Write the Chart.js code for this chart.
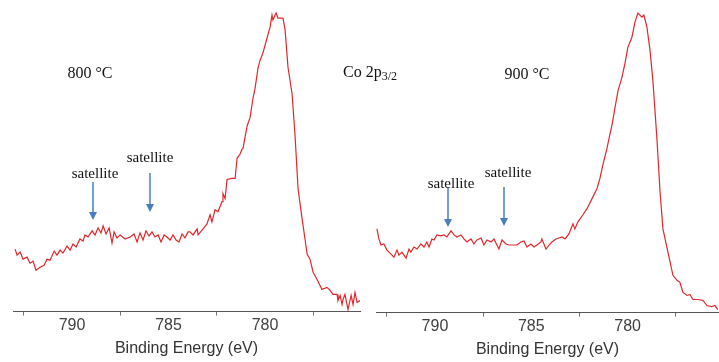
<!DOCTYPE html>
<html><head><meta charset="utf-8">
<script src="https://cdn.jsdelivr.net/npm/chart.js@4/dist/chart.umd.min.js"></script>
<style>
html,body{margin:0;padding:0;background:#fff;width:719px;height:362px;overflow:hidden;}
#wrap{position:relative;width:719px;height:362px;}
.cv{position:absolute;top:0;height:362px;}
.t{position:absolute;font-family:"Liberation Serif","Times New Roman",serif;color:#111;white-space:nowrap;transform:translate(-50%,-50%);line-height:1;}
svg{position:absolute;left:0;top:0;}
</style></head><body>
<div id="wrap">
<div class="cv" style="left:0;width:362px"><canvas id="c1"></canvas></div>
<div class="cv" style="left:362px;width:357px"><canvas id="c2"></canvas></div>
<svg width="719" height="362" viewBox="0 0 719 362">
  <line x1="93" y1="182" x2="93" y2="213" stroke="#4a7ebb" stroke-width="1.5"/><path d="M89,212 L97,212 L93,220 z" fill="#4a7ebb"/>
  <line x1="150" y1="173" x2="150" y2="205" stroke="#4a7ebb" stroke-width="1.5"/><path d="M146,204 L154,204 L150,212 z" fill="#4a7ebb"/>
  <line x1="448" y1="188" x2="448" y2="220" stroke="#4a7ebb" stroke-width="1.5"/><path d="M444,219 L452,219 L448,227 z" fill="#4a7ebb"/>
  <line x1="504" y1="187" x2="504" y2="219" stroke="#4a7ebb" stroke-width="1.5"/><path d="M500,218 L508,218 L504,226 z" fill="#4a7ebb"/>
</svg>
<div class="t" style="left:90px;top:73px;font-size:16px">800 °C</div>
<div class="t" style="left:370px;top:72px;font-size:16px">Co 2p<span style="font-size:12px;position:relative;top:3px">3/2</span></div>
<div class="t" style="left:527px;top:74px;font-size:16px">900 °C</div>
<div class="t" style="left:95px;top:173px;font-size:15px">satellite</div>
<div class="t" style="left:150px;top:157px;font-size:15px">satellite</div>
<div class="t" style="left:451px;top:183px;font-size:15px">satellite</div>
<div class="t" style="left:508px;top:172px;font-size:15px">satellite</div>
</div>
<script>
// Binding energy (eV) and intensity (a.u.)
const e800 = [792.95,792.85,792.69,792.54,792.33,792.18,792.02,791.87,791.66,791.45,791.30,791.14,790.93,790.78,790.62,790.47,790.26,790.10,789.95,789.79,789.59,789.43,789.33,789.17,788.96,788.81,788.65,788.50,788.39,788.24,788.08,787.93,787.82,787.67,787.51,787.25,786.99,786.79,786.63,786.48,786.32,786.17,786.01,785.86,785.70,785.54,785.39,785.23,785.08,784.92,784.77,784.61,784.46,784.30,784.15,783.99,783.89,783.73,783.52,783.47,783.21,783.01,782.85,782.75,782.59,782.44,782.23,782.18,782.07,781.97,781.71,781.55,781.45,781.30,781.19,781.14,780.93,780.78,780.62,780.52,780.36,780.26,780.10,779.90,779.74,779.64,779.59,779.43,779.33,779.07,778.96,778.81,778.60,778.45,778.29,778.08,777.93,777.82,777.67,777.51,777.31,777.05,776.79,776.63,776.48,776.27,776.22,776.11,776.01,775.96,775.86,775.70,775.54,775.44,775.34,775.23,775.08];
const i800 = [62,56,59,52,54,48,50,41,44,46,52,51,60,56,61,58,65,61,67,64,72,70,76,74,80,76,83,78,85,77,83,68,79,73,76,72,74,77,69,78,71,80,75,79,74,76,69,76,74,71,76,71,69,77,73,79,79,76,82,76,82,87,96,89,101,99,109,117,112,131,132,132,152,156,161,162,184,192,212,221,242,249,257,271,282,294,289,296,291,291,279,242,216,176,122,92,72,57,52,39,32,22,24,21,17,17,11,16,7,12,17,2,16,7,19,9,11];
const e900 = [793.01,792.91,792.80,792.65,792.49,792.28,792.13,791.97,791.87,791.71,791.50,791.35,791.25,791.09,790.93,790.73,790.57,790.42,790.31,790.16,790.05,789.90,789.69,789.53,789.38,789.17,789.01,788.86,788.65,788.50,788.34,788.13,787.98,787.82,787.61,787.46,787.30,787.09,786.94,786.68,786.52,786.32,786.16,785.90,785.75,785.54,785.38,785.23,785.02,784.86,784.71,784.50,784.45,784.24,784.08,783.93,783.72,783.57,783.41,783.25,783.05,782.84,782.74,782.58,782.32,782.11,781.85,781.59,781.44,781.28,781.07,780.92,780.82,780.66,780.50,780.30,780.14,779.99,779.78,779.62,779.47,779.26,779.16,779.00,778.84,778.69,778.48,778.32,778.17,777.91,777.65,777.44,777.29,777.13,776.92,776.77,776.61,776.35,776.09,775.89,775.63,775.47,775.32];
const i900 = [83,73,67,68,62,58,55,62,57,60,54,63,60,65,63,68,65,70,65,73,72,77,76,77,75,81,77,75,77,73,70,73,68,72,74,67,72,70,73,63,72,68,67,67,67,70,71,65,68,65,67,70,73,63,67,70,73,74,75,73,78,88,83,90,97,103,113,123,133,147,163,177,185,203,220,233,247,263,273,288,297,293,295,283,260,230,172,120,83,60,37,32,30,20,17,18,13,13,12,7,6,7,3];
const tickValues = [792.5,790,787.5,785,782.5,780,777.5];
const labeledTicks = [790,785,780];
const xTitle = 'Binding Energy (eV)';

function makeChart(id, xs, ys, xmin, xmax, pad){
  return new Chart(document.getElementById(id), {
    type:'line',
    data:{datasets:[{data: xs.map((x,i)=>({x:x,y:ys[i]})), borderColor:'#e3262b', borderWidth:1.2, pointRadius:0, tension:0, fill:false}]},
    options:{
      responsive:true, maintainAspectRatio:false, animation:false, devicePixelRatio:1,
      layout:{padding:pad},
      plugins:{legend:{display:false}, tooltip:{enabled:false}},
      scales:{
        x:{type:'linear', reverse:true, min:xmin, max:xmax,
          afterBuildTicks: s => { s.ticks = tickValues.map(v=>({value:v})); },
          ticks:{autoSkip:false, maxRotation:0, padding:0, color:'#404040', font:{family:'"Liberation Sans", Arial, sans-serif', size:16},
            callback: v => labeledTicks.includes(v) ? String(v) : ''},
          grid:{drawOnChartArea:false, drawTicks:true, tickLength:4,
            tickColor: c => (c.tick && labeledTicks.includes(c.tick.value)) ? 'rgba(0,0,0,0)' : '#777'},
          border:{display:true, color:'#555', width:1},
          title:{display:true, text:xTitle, color:'#333', font:{family:'"Liberation Sans", Arial, sans-serif', size:16}, padding:{top:4,bottom:4}}
        },
        y:{display:false, min:0, max:300}
      }
    }
  });
}
makeChart('c1', e800, i800, 775.08, 793.06, {left:13, right:2, top:9, bottom:0});
makeChart('c2', e900, i900, 775.26, 793.06, {left:14, right:0, top:10, bottom:-1});
</script>
</body></html>
